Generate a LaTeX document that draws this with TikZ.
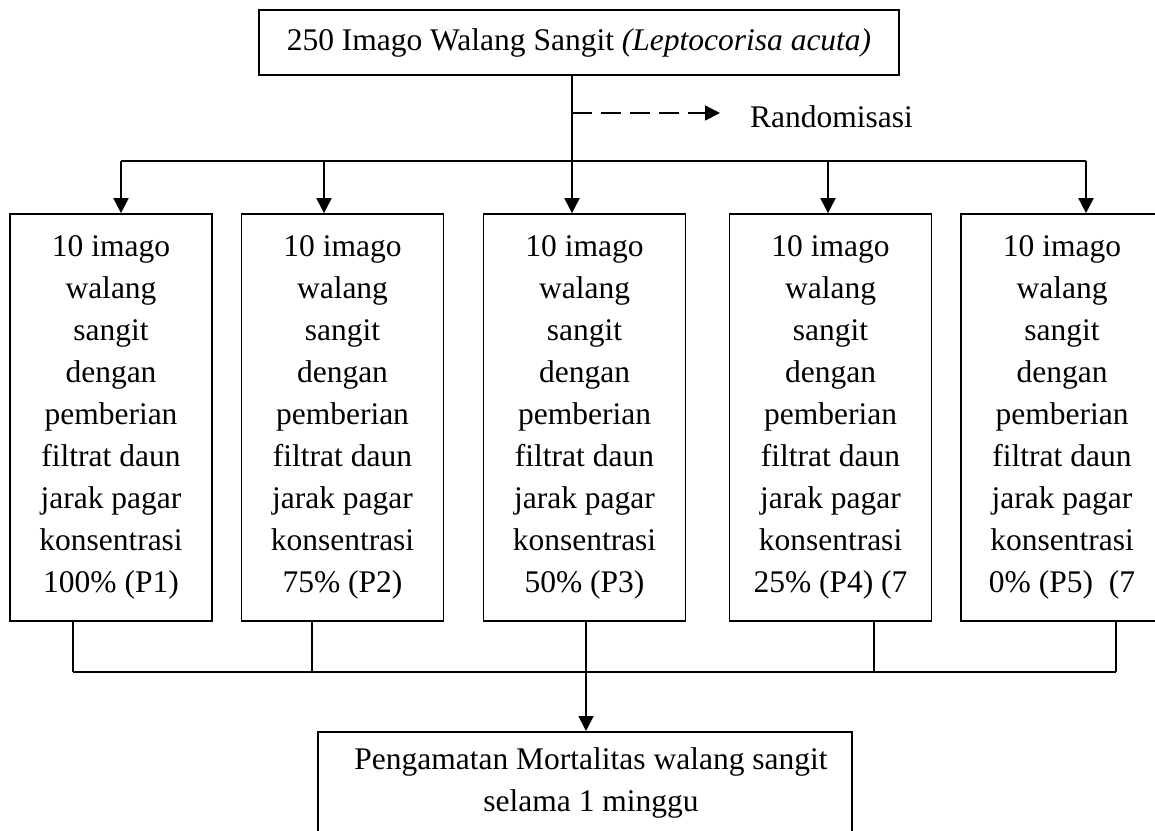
\documentclass[tikz,border=0pt]{standalone}
\usepackage{fontspec}
\setmainfont{Liberation Serif}
\usetikzlibrary{arrows.meta}

% the nine lines that every treatment box repeats
\newcommand{\perlakuan}[1]{10 imago\\walang\\sangit\\dengan\\pemberian\\filtrat daun\\jarak pagar\\konsentrasi\\#1}

\begin{document}
\begin{tikzpicture}[x=1pt, y=-1pt,
        font=\fontsize{31.5}{42}\selectfont,
        box/.style={draw, line width=1.7pt, inner sep=0pt, align=center},
        grup/.style={box, minimum width=202, minimum height=407},
        link/.style={line width=1.8pt},
        arr/.style={link, -{Triangle[length=15pt, width=15pt]}}]
    \useasboundingbox (0,0) rectangle (1155,830);
    \clip (0,0) rectangle (1155,830);

    \node[box, minimum width=640, minimum height=65] (imago) at (579,42.5)
        {250 Imago Walang Sangit \textit{(Leptocorisa acuta)}};

    \node[grup] (p1) at (111,417.5) {\perlakuan{100\% (P1)}};
    \node[grup] (p2) at (342.5,417.5) {\perlakuan{75\% (P2)}};
    \node[grup] (p3) at (584.5,417.5) {\perlakuan{50\% (P3)}};
    \node[grup] (p4) at (830.5,417.5) {\perlakuan{25\% (P4) (7}};
    \node[grup] (p5) at (1062,417.5) {\perlakuan{0\% (P5)~ (7}};

    \node[box, anchor=north, minimum width=534, minimum height=150] (amat) at (585,731) {};
    \node[align=center, anchor=north, inner sep=0pt] (amattxt) at (591,747)
        {Pengamatan Mortalitas walang sangit\\selama 1 minggu};

    % randomisasi
    \coordinate (r) at (572,113);
    \node[anchor=west, inner sep=0pt] (acak) at (750,117) {Randomisasi};
    \draw[arr, dash pattern=on 20pt off 9pt] (r) -- ([xshift=-30pt]acak.west |- r);

    % split into the five groups
    \coordinate (t1) at (121,161);
    \coordinate (t2) at (324,161);
    \coordinate (t3) at (572,161);
    \coordinate (t4) at (828,161);
    \coordinate (t5) at (1086,161);
    \draw[link] (imago.south -| t3) -- (t3);
    \draw[link] (t1) -- (t5);
    \foreach \i in {1,...,5}
        \draw[arr] (t\i) -- (t\i |- p\i.north);

    % join back to the observation
    \coordinate (u1) at (73,672);
    \coordinate (u2) at (312,672);
    \coordinate (u3) at (586,672);
    \coordinate (u4) at (874,672);
    \coordinate (u5) at (1116,672);
    \foreach \i in {1,2,4,5}
        \draw[link] (p\i.south -| u\i) -- (u\i);
    \draw[link] (u1) -- (u5);
    \draw[arr] (p3.south -| u3) -- (amat.north -| u3);
\end{tikzpicture}
\end{document}
